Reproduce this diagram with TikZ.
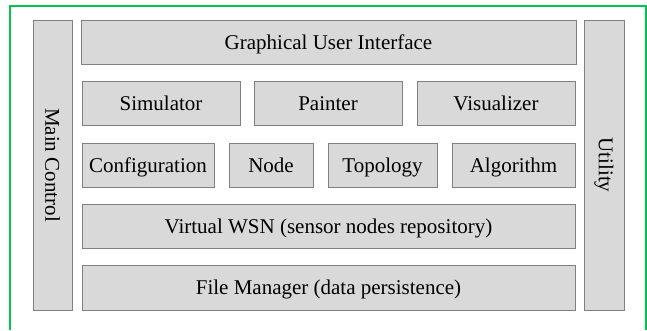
\documentclass[tikz,border=0pt]{standalone}
\usepackage{fontspec}
\setmainfont{Liberation Serif}
\usetikzlibrary{positioning}
\definecolor{frameGreen}{RGB}{0,196,80}
\definecolor{boxFill}{RGB}{217,217,217}
\definecolor{boxLine}{RGB}{128,128,128}
\begin{document}
\begin{tikzpicture}[x=1pt,y=-1pt,
	block/.style={draw=boxLine, fill=boxFill, line width=1pt, inner sep=0pt,
		font=\fontsize{21}{25}\selectfont, text height=16pt, text depth=2pt,
		minimum height=44pt}]
	\useasboundingbox (0,0) rectangle (647,330);
	\draw[frameGreen, line width=1.2pt] (10,330) -- (10,6) -- (646,6) -- (646,330);
	% side columns
	\node[block, minimum width=39pt, minimum height=290pt] at (52.5,165) (MainCtrl) {};
	\node[rotate=-90, font=\fontsize{21}{25}\selectfont] at (MainCtrl) {Main Control};
	\node[block, minimum width=40pt, minimum height=290pt] at (604,165) (Utility) {};
	\node[rotate=-90, font=\fontsize{21}{25}\selectfont] at (Utility) {Utility};
	% layers
	\node[block, minimum width=495pt] at (328.5,42) (GUI) {Graphical User Interface};
	\node[block, minimum width=158pt] at (161,103) (Sim) {Simulator};
	\node[block, minimum width=148pt] at (328,103) (Paint) {Painter};
	\node[block, minimum width=158pt] at (496,103) (Vis) {Visualizer};
	\node[block, minimum width=132pt] at (148,165) (Config) {Configuration};
	\node[block, minimum width=84pt] at (271,165) (Node) {Node};
	\node[block, minimum width=109pt] at (382.5,165) (Topo) {Topology};
	\node[block, minimum width=123pt] at (513.5,165) (Algo) {Algorithm};
	\node[block, minimum width=493pt] at (328.5,226) (WSN) {Virtual WSN (sensor nodes repository)};
	\node[block, minimum width=493pt, minimum height=45pt] at (328.5,287.5) (FileMgr) {File Manager (data persistence)};
\end{tikzpicture}
\end{document}
